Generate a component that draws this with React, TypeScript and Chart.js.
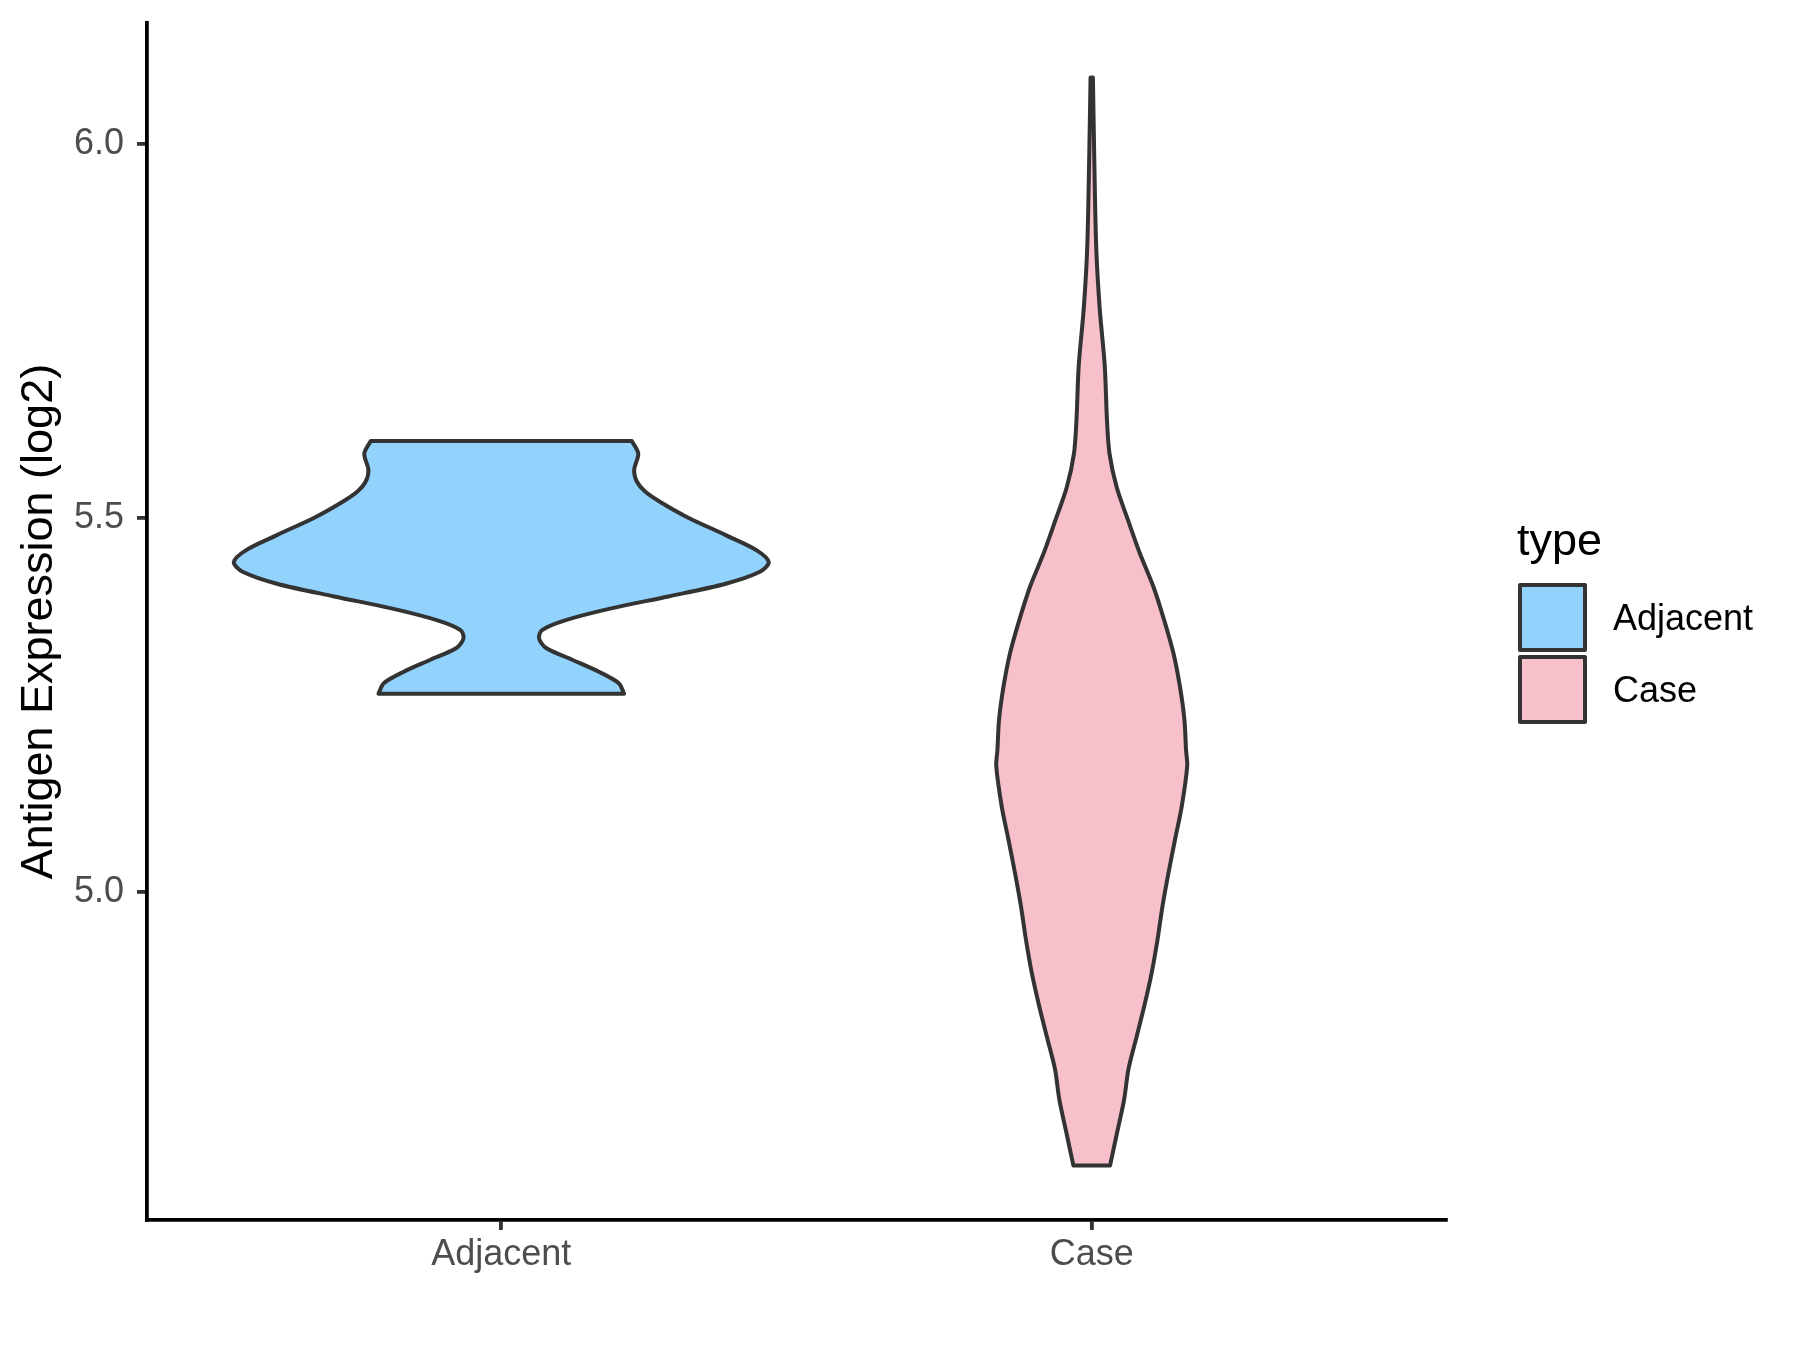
import React, { useEffect, useRef } from 'react';
import { Chart, registerables } from 'chart.js';

Chart.register(...registerables);

// ---- data ----
const CATEGORIES = ['Adjacent', 'Case'];
const FILL_COLORS = ['#92D3FE', '#F7C0CB'];
const Y_TICKS = [5.0, 5.5, 6.0];
const Y_TITLE = 'Antigen Expression (log2)';
const LEGEND_TITLE = 'type';

// Adjacent violin: expression value (top -> bottom) and half-width (x units)
const ADJ_VALUES = [
  5.603, 5.586, 5.564, 5.548, 5.535, 5.521, 5.501, 5.477, 5.457, 5.441, 5.428,
  5.412, 5.395, 5.379, 5.363, 5.350, 5.339, 5.326, 5.310, 5.294, 5.279, 5.265,
];
const ADJ_HALF = [
  0.221, 0.232, 0.225, 0.230, 0.244, 0.270, 0.315, 0.380, 0.432, 0.453, 0.438,
  0.380, 0.283, 0.186, 0.108, 0.069, 0.064, 0.076, 0.121, 0.166, 0.199, 0.208,
];

// Case violin
const CASE_VALUES = [
  6.089, 5.985, 5.862, 5.780, 5.704, 5.630, 5.586, 5.541, 5.497, 5.452, 5.408,
  5.363, 5.319, 5.274, 5.230, 5.190, 5.168, 5.114, 5.070, 5.025, 4.981, 4.936,
  4.892, 4.847, 4.803, 4.763, 4.723, 4.679, 4.634,
];
const CASE_HALF = [
  0.002, 0.0042, 0.0076, 0.0135, 0.022, 0.0259, 0.0301, 0.0423, 0.0615, 0.0818, 0.1045,
  0.1228, 0.1384, 0.1495, 0.157, 0.1597, 0.1617, 0.1524, 0.1411, 0.1299, 0.1199, 0.1114,
  0.1016, 0.0889, 0.0749, 0.0622, 0.055, 0.0432, 0.031,
];

const FONT = "'Liberation Sans', Arial, sans-serif";
const OUTLINE_W = 4;
const AXIS_W = 3.8;

function outline(center: number, values: number[], half: number[]) {
  const L = values.map((v, i) => ({ x: center - half[i], y: v }));
  const R = values.map((v, i) => ({ x: center + half[i], y: v })).reverse();
  return [L[0], ...L, L[L.length - 1], R[0], ...R, R[R.length - 1], L[0]];
}

const allVals = [...ADJ_VALUES, ...CASE_VALUES];
const dataMin = Math.min(...allVals);
const dataMax = Math.max(...allVals);
const pad = (dataMax - dataMin) * 0.05;
const Y_MIN = dataMin - pad;
const Y_MAX = dataMax + pad;

const legendPlugin = {
  id: 'ggLegend',
  afterDraw(chart: any) {
    const ctx = chart.ctx as CanvasRenderingContext2D;
    ctx.save();
    ctx.textBaseline = 'alphabetic';
    ctx.textAlign = 'left';
    ctx.fillStyle = '#000000';
    ctx.font = `45px ${FONT}`;
    ctx.fillText(LEGEND_TITLE, 1517, 555);
    CATEGORIES.forEach((c, i) => {
      const top = 585 + i * 72;
      ctx.fillStyle = FILL_COLORS[i];
      ctx.fillRect(1520, top, 65, 65);
      ctx.strokeStyle = '#333333';
      ctx.lineWidth = OUTLINE_W;
      ctx.lineJoin = 'round';
      ctx.strokeRect(1520, top, 65, 65);
      ctx.fillStyle = '#000000';
      ctx.font = `36px ${FONT}`;
      ctx.fillText(c, 1613, 630 + i * 72);
    });
    ctx.restore();
  },
};

export default function App() {
  const ref = useRef<HTMLCanvasElement>(null);

  useEffect(() => {
    if (!ref.current) return;
    const violins = [
      { values: ADJ_VALUES, half: ADJ_HALF },
      { values: CASE_VALUES, half: CASE_HALF },
    ];
    const chart = new Chart(ref.current, {
      type: 'line',
      data: {
        datasets: violins.map((v, i) => ({
          label: CATEGORIES[i],
          data: outline(i + 1, v.values, v.half),
          fill: 'shape',
          backgroundColor: FILL_COLORS[i],
          borderColor: '#333333',
          borderWidth: OUTLINE_W,
          tension: 0.3,
          pointRadius: 0,
          pointHoverRadius: 0,
          borderJoinStyle: 'round',
          borderCapStyle: 'round',
        })) as any,
      },
      options: {
        indexAxis: 'y',
        animation: false,
        responsive: false,
        devicePixelRatio: 1,
        events: [],
        layout: { padding: { left: 0, top: 23, right: 354, bottom: 0 } },
        plugins: {
          legend: { display: false },
          tooltip: { enabled: false },
          title: { display: false },
        },
        scales: {
          x: {
            type: 'linear',
            position: 'bottom',
            min: 0.4,
            max: 2.6,
            afterBuildTicks: (scale: any) => {
              scale.ticks = CATEGORIES.map((_, i) => ({ value: i + 1 }));
            },
            afterFit: (scale: any) => {
              scale.height = 130;
              scale.paddingLeft = 0;
              scale.paddingRight = 0;
            },
            ticks: {
              autoSkip: false,
              maxRotation: 0,
              padding: 3,
              color: '#4D4D4D',
              font: { family: FONT, size: 36 },
              callback: (value: any) => CATEGORIES[Math.round(Number(value)) - 1] ?? '',
            },
            grid: {
              display: true,
              drawOnChartArea: false,
              drawTicks: true,
              tickLength: 10,
              color: '#333333',
              lineWidth: AXIS_W,
            },
            border: { display: true, color: '#000000', width: AXIS_W },
          },
          y: {
            type: 'linear',
            position: 'left',
            min: Y_MIN,
            max: Y_MAX,
            afterBuildTicks: (scale: any) => {
              scale.ticks = Y_TICKS.map((v) => ({ value: v }));
            },
            afterFit: (scale: any) => {
              scale.width = 147;
              scale.paddingTop = 0;
              scale.paddingBottom = 0;
            },
            ticks: {
              padding: 13,
              color: '#4D4D4D',
              font: { family: FONT, size: 36 },
              callback: (value: any) => Number(value).toFixed(1),
            },
            grid: {
              display: true,
              drawOnChartArea: false,
              drawTicks: true,
              tickLength: 10,
              color: '#333333',
              lineWidth: AXIS_W,
            },
            border: { display: true, color: '#000000', width: AXIS_W },
            title: {
              display: true,
              text: Y_TITLE,
              color: '#000000',
              font: { family: FONT, size: 45 },
              padding: { top: 13, bottom: 0 },
            },
          },
        },
      } as any,
      plugins: [legendPlugin],
    });
    return () => chart.destroy();
  }, []);

  return (
    <div style={{ position: 'absolute', left: 0, top: 0, width: 1800, height: 1350, background: '#ffffff' }}>
      <canvas ref={ref} width={1800} height={1350} style={{ display: 'block', width: 1800, height: 1350 }} />
    </div>
  );
}
